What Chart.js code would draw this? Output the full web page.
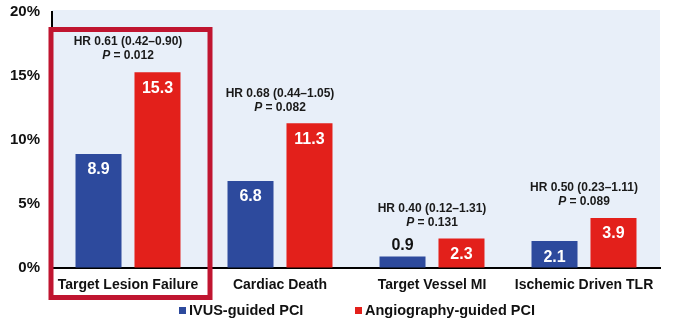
<!DOCTYPE html>
<html>
<head>
<meta charset="utf-8">
<script src="https://cdn.jsdelivr.net/npm/chart.js@4.4.1/dist/chart.umd.min.js"></script>
<style>
  html, body { margin: 0; padding: 0; background: #ffffff; }
  #wrap { width: 680px; height: 330px; }
</style>
</head>
<body>
<div id="wrap"><canvas id="chartBar" width="680" height="330"></canvas></div>
<script>
var FONT = "'Liberation Sans', Arial, sans-serif";

var categories = ["Target Lesion Failure", "Cardiac Death", "Target Vessel MI", "Ischemic Driven TLR"];
var ivus = [8.9, 6.8, 0.9, 2.1];
var angio = [15.3, 11.3, 2.3, 3.9];
var hrText = ["HR 0.61 (0.42\u20130.90)", "HR 0.68 (0.44\u20131.05)", "HR 0.40 (0.12\u20131.31)", "HR 0.50 (0.23\u20131.11)"];
var pValues = ["0.012", "0.082", "0.131", "0.089"];
var yTicks = [0, 5, 10, 15, 20];
var highlighted = 0;

var blue = '#2d4a9d';
var red = '#e3201b';

// light blue plot background
var background = {
    id: 'background',
    beforeDraw: function (chart) {
        var a = chart.chartArea;
        var ctx = chart.ctx;
        ctx.save();
        ctx.fillStyle = '#e8eff9';
        ctx.fillRect(a.left, a.top - 2, a.right - a.left, a.bottom - a.top + 2);
        ctx.restore();
    }
};

// values on bars, HR / P annotations, highlight box, legend
var annotations = {
    id: 'annotations',
    afterDraw: function (chart) {
        var ctx = chart.ctx;
        var x = chart.scales.x;
        var y = chart.scales.y;
        ctx.save();

        chart.data.datasets.forEach(function (ds, di) {
            chart.getDatasetMeta(di).data.forEach(function (bar, i) {
                var h = bar.base - bar.y;
                ctx.font = 'bold 16px ' + FONT;
                ctx.textAlign = 'center';
                ctx.textBaseline = 'middle';
                if (h > 24) {
                    ctx.fillStyle = '#ffffff';
                    ctx.fillText(ds.data[i].toFixed(1), bar.x, bar.y + 16);
                } else {
                    ctx.fillStyle = '#111111';
                    ctx.fillText(ds.data[i].toFixed(1), bar.x, bar.y - 11);
                }
            });
        });

        categories.forEach(function (c, i) {
            var cx = x.getPixelForValue(i);
            var top = y.getPixelForValue(Math.max(ivus[i], angio[i]));
            var pY = top - 16;
            ctx.fillStyle = '#1a1a1a';
            ctx.textBaseline = 'middle';
            ctx.textAlign = 'center';
            ctx.font = 'bold 12px ' + FONT;
            ctx.fillText(hrText[i], cx, pY - 14);

            ctx.textAlign = 'left';
            ctx.font = 'italic bold 12px ' + FONT;
            var w1 = ctx.measureText('P').width;
            ctx.font = 'bold 12px ' + FONT;
            var rest = ' = ' + pValues[i];
            var w2 = ctx.measureText(rest).width;
            var sx = cx - (w1 + w2) / 2;
            ctx.font = 'italic bold 12px ' + FONT;
            ctx.fillText('P', sx, pY);
            ctx.font = 'bold 12px ' + FONT;
            ctx.fillText(rest, sx + w1, pY);
        });

        // highlight box around first group
        var hx = x.getPixelForValue(highlighted);
        ctx.strokeStyle = '#c01530';
        ctx.lineWidth = 5;
        ctx.strokeRect(hx - 77, 29.5, 159, 268);

        // legend
        var lx = 179;
        ctx.font = 'bold 14.5px ' + FONT;
        ctx.textAlign = 'left';
        ctx.textBaseline = 'middle';
        chart.data.datasets.forEach(function (ds) {
            ctx.fillStyle = ds.backgroundColor;
            ctx.fillRect(lx, 307, 7, 7);
            ctx.fillStyle = '#111111';
            ctx.fillText(ds.label, lx + 10, 311);
            lx += 176;
        });

        ctx.restore();
    }
};

new Chart(document.getElementById("chartBar"), {
    type: "bar",
    plugins: [background, annotations],
    data: {
        labels: categories,
        datasets: [{
            label: "IVUS-guided PCI",
            data: ivus,
            backgroundColor: blue,
            categoryPercentage: 0.776,
            barPercentage: 0.78
        }, {
            label: "Angiography-guided PCI",
            data: angio,
            backgroundColor: red,
            categoryPercentage: 0.776,
            barPercentage: 0.78
        }]
    },
    options: {
        responsive: false,
        animation: false,
        layout: { padding: { top: 12, right: 20, left: 0, bottom: 0 } },
        plugins: {
            legend: { display: false },
            tooltip: { enabled: false }
        },
        scales: {
            x: {
                grid: { drawOnChartArea: false, drawTicks: false },
                border: { display: true, color: '#000000', width: 2 },
                ticks: {
                    padding: 9,
                    color: '#111111',
                    font: { family: FONT, size: 14, weight: 'bold' }
                },
                afterFit: function (scale) { scale.height = 62; }
            },
            y: {
                min: 0,
                max: 20,
                afterBuildTicks: function (scale) {
                    scale.ticks = yTicks.map(function (v) { return { value: v }; });
                },
                grid: { drawOnChartArea: false, drawTicks: false },
                border: { display: true, color: '#000000', width: 2 },
                ticks: {
                    padding: 12,
                    color: '#111111',
                    font: { family: FONT, size: 15, weight: 'bold' },
                    callback: function (v) { return v + '%'; }
                },
                afterFit: function (scale) {
                    scale.width = 52;
                    scale.paddingTop = 0;
                    scale.paddingBottom = 0;
                }
            }
        }
    }
});
</script>
</body>
</html>
